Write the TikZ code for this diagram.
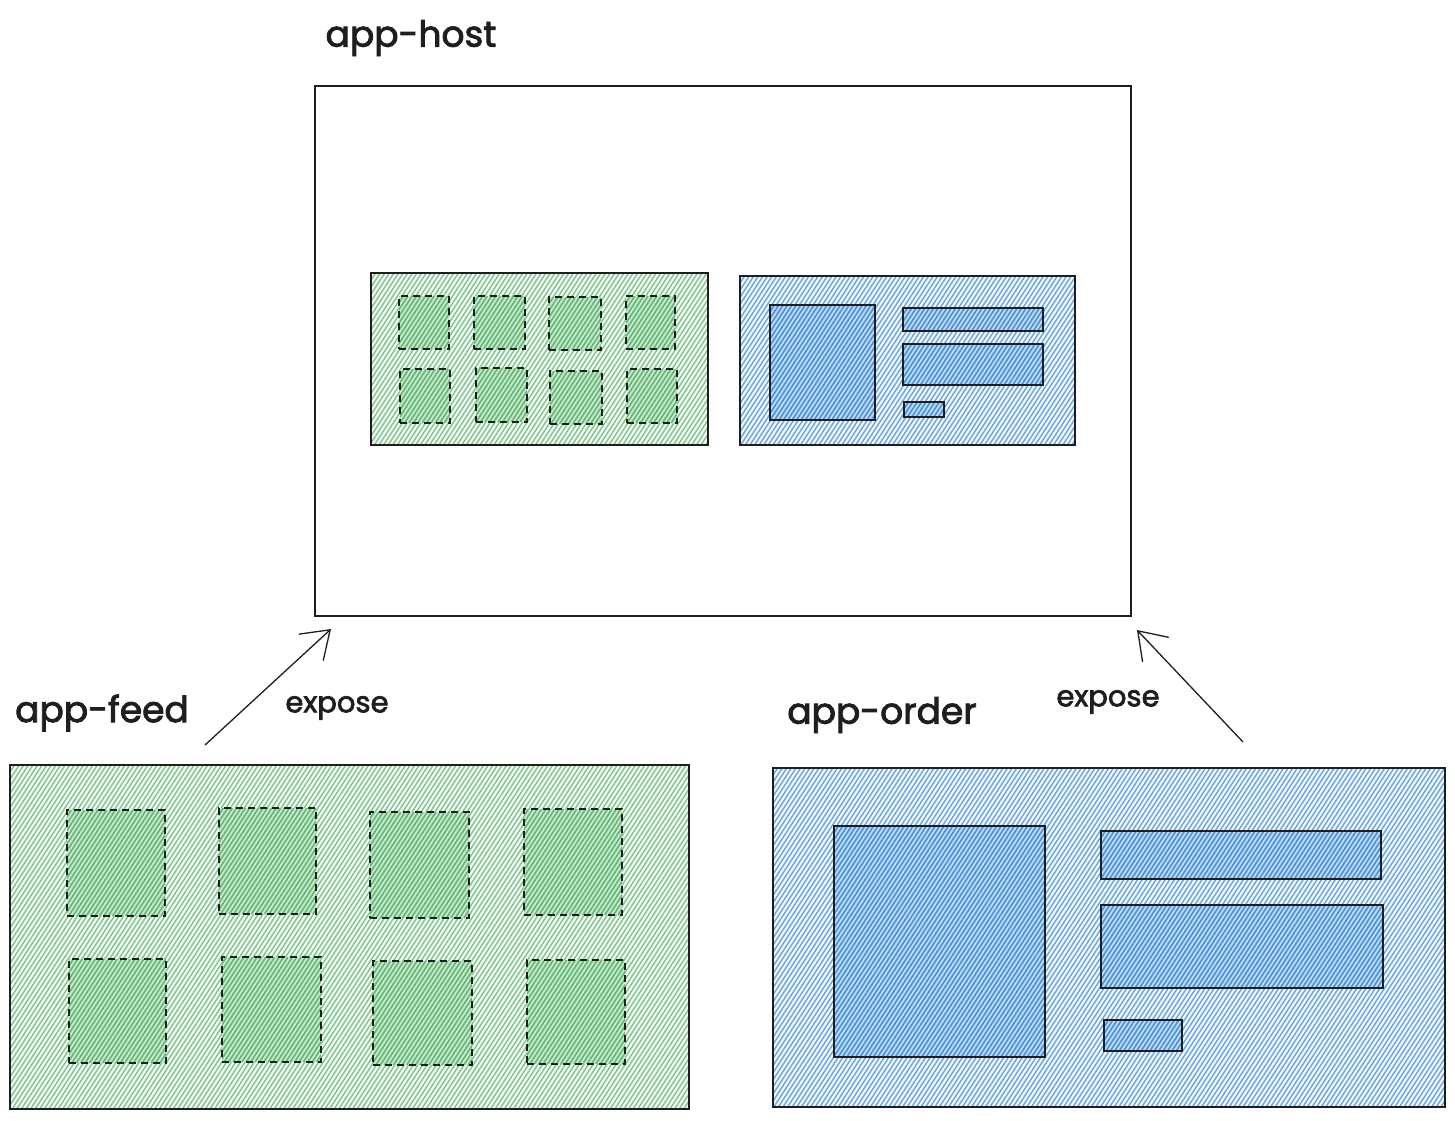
\documentclass[tikz,border=0pt]{standalone}
\usepackage{fontspec}
\setmainfont{Poppins}[FakeBold=2.4]
\usetikzlibrary{fit,calc,arrows.meta}
\definecolor{hgreen}{RGB}{80,176,98}
\definecolor{hblue}{RGB}{52,134,214}
\definecolor{ink}{RGB}{30,30,30}
\tikzset{
  frame/.style={draw=ink, line width=1.3pt, inner sep=0pt, outer sep=0pt},
  tileframe/.style={draw=ink, line width=1.3pt, dash pattern=on 7pt off 5pt, inner sep=0pt, outer sep=0pt},
  title/.style={font=\fontsize{36}{36}\selectfont, text=ink, inner sep=0pt},
  small/.style={font=\fontsize{29}{29}\selectfont, text=ink, inner sep=0pt},
  link/.style={draw=ink, line width=1.3pt, -{Straight Barb[length=26pt,width=36pt,line width=1.3pt]}}
}
% hatch: x1 y1 x2 y2 colour step linewidth
\newcommand\hatch[7]{%
 \begin{scope}
  \clip (#1,#2) rectangle (#3,#4);
  \pgfmathsetmacro\hd{(#4-#2)*0.649}%
  \pgfmathsetmacro\hs{#1-\hd}%
  \pgfmathsetmacro\hn{#1-\hd+#6}%
  \foreach \t in {\hs,\hn,...,#3} \draw[draw=#5, line width=#7] (\t,#4) -- ++(\hd,#2-#4);
 \end{scope}}
% outer box: name x1 y1 x2 y2 colour
\newcommand\outerbox[6]{%
 \fill[#6!6] (#2,#3) rectangle (#4,#5);
 \hatch{#2}{#3}{#4}{#5}{#6!74}{4.6}{1.4pt}
 \node[frame, fit={(#2,#3) (#4,#5)}] (#1) {};}
% tile: style name x1 y1 x2 y2 colour
\newcommand\tile[7]{%
 \fill[#7!30] (#3,#4) rectangle (#5,#6);
 \hatch{#3}{#4}{#5}{#6}{#7!90}{4.4}{1.6pt}
 \node[#1, fit={(#3,#4) (#5,#6)}] (#2) {};}
\begin{document}
\begin{tikzpicture}[x=1pt,y=-1pt]
\useasboundingbox[fill=white] (0,0) rectangle (1455,1120);
% host
\node[title] (hostlbl) at (411,38) {app-host};
\node[frame, line width=1.1pt, fit={(315,86) (1131,616)}] (host) {};
% inner green
\outerbox{hfeed}{371}{273}{708}{445}{hgreen}
\tile{tileframe}{hf1}{399}{296}{449}{349}{hgreen}
\tile{tileframe}{hf2}{474}{296}{525}{349}{hgreen}
\tile{tileframe}{hf3}{549}{297}{601}{350}{hgreen}
\tile{tileframe}{hf4}{626}{296}{675}{349}{hgreen}
\tile{tileframe}{hf5}{400}{369}{450}{423}{hgreen}
\tile{tileframe}{hf6}{476}{368}{527}{422}{hgreen}
\tile{tileframe}{hf7}{550}{371}{602}{424}{hgreen}
\tile{tileframe}{hf8}{627}{369}{677}{423}{hgreen}
% inner blue
\outerbox{horder}{740}{276}{1075}{445}{hblue}
\tile{frame}{ho1}{770}{305}{875}{420}{hblue}
\tile{frame}{ho2}{903}{308}{1043}{331}{hblue}
\tile{frame}{ho3}{903}{344}{1043}{385}{hblue}
\tile{frame}{ho4}{904}{402}{944}{417}{hblue}
% feed
\node[title] (feedlbl) at (102,713) {app-feed};
\node[small] (exp1) at (337,708) {expose};
\outerbox{feed}{10}{765}{689}{1109}{hgreen}
\tile{tileframe}{f1}{67}{810}{165}{916}{hgreen}
\tile{tileframe}{f2}{219}{808}{316}{914}{hgreen}
\tile{tileframe}{f3}{370}{812}{469}{918}{hgreen}
\tile{tileframe}{f4}{524}{809}{622}{915}{hgreen}
\tile{tileframe}{f5}{69}{959}{166}{1063}{hgreen}
\tile{tileframe}{f6}{222}{957}{321}{1062}{hgreen}
\tile{tileframe}{f7}{373}{961}{472}{1065}{hgreen}
\tile{tileframe}{f8}{527}{960}{625}{1064}{hgreen}
% order
\node[title] (orderlbl) at (882,715) {app-order};
\node[small] (exp2) at (1108,702) {expose};
\outerbox{order}{773}{768}{1445}{1107}{hblue}
\tile{frame}{o1}{834}{826}{1045}{1057}{hblue}
\tile{frame}{o2}{1101}{831}{1381}{879}{hblue}
\tile{frame}{o3}{1101}{905}{1383}{988}{hblue}
\tile{frame}{o4}{1104}{1020}{1182}{1051}{hblue}
% arrows
\coordinate (a1s) at ($(feed.north west)+(195,-20)$);
\coordinate (a1e) at ($(host.south west)+(16,13)$);
\coordinate (a2s) at ($(order.north east)+(-202,-26)$);
\coordinate (a2e) at ($(host.south east)+(6,14)$);
\draw[link] (a1s) -- (a1e);
\draw[link] (a2s) -- (a2e);
\end{tikzpicture}
\end{document}
